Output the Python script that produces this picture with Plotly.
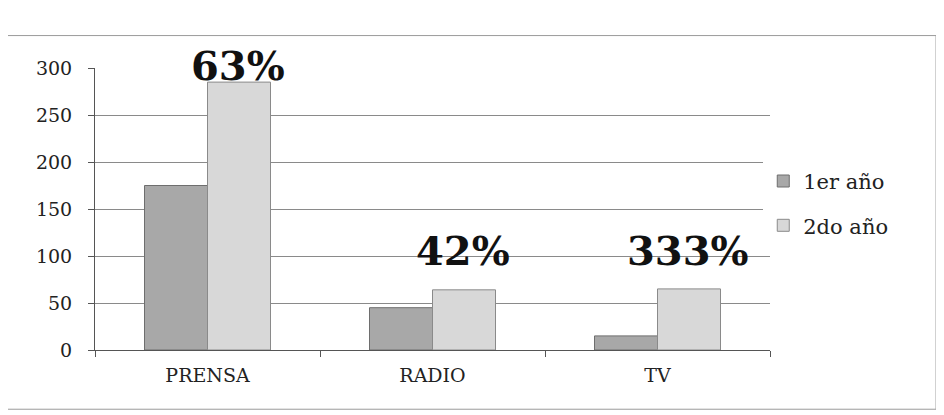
import plotly.graph_objects as go

categories = ["PRENSA", "RADIO", "TV"]
anio1 = [175, 45, 15]
anio2 = [285, 64, 65]
pct_labels = ["63%", "42%", "333%"]
pct_y = [298, 102, 102]
y_ticks = [0, 50, 100, 150, 200, 250, 300]

font_serif = "DejaVu Serif, Liberation Serif, serif"

fig = go.Figure()
fig.add_trace(go.Bar(name="1er año", x=categories, y=anio1,
                     marker=dict(color="#a8a8a8", line=dict(color="#6e6e6e", width=1)),
                     legendgroup="a"))
fig.add_trace(go.Bar(name="2do año", x=categories, y=anio2,
                     marker=dict(color="#d8d8d8", line=dict(color="#8a8a8a", width=1)),
                     legendgroup="b"))

for c, t, yv in zip(categories, pct_labels, pct_y):
    fig.add_annotation(x=c, y=yv, text="<b>" + t + "</b>", showarrow=False,
                       xshift=30, yshift=4, yanchor="middle",
                       font=dict(family=font_serif, size=40, color="#111111"))

fig.add_shape(type="rect", xref="paper", yref="paper",
              x0=-0.133, x1=1.246, y0=-0.21, y1=1.115,
              line=dict(color="#9a9a9a", width=1), fillcolor="rgba(0,0,0,0)")

fig.update_layout(
    width=944, height=415,
    margin=dict(l=87, r=182, t=60, b=73),
    paper_bgcolor="white", plot_bgcolor="white",
    barmode="group", bargap=0.44, bargroupgap=0,
    font=dict(family=font_serif, size=20, color="#222222"),
    legend=dict(x=0.99, y=0.52, xanchor="left", yanchor="middle",
                font=dict(family=font_serif, size=21, color="#222222"),
                tracegroupgap=14, itemwidth=30),
    showlegend=True,
)
fig.update_xaxes(showline=True, linecolor="#555555", linewidth=1,
                 ticks="outside", tickson="boundaries", ticklen=6, tickcolor="#555555",
                 ticklabelstandoff=8,
                 tickfont=dict(family=font_serif, size=19, color="#222222"))
fig.update_yaxes(range=[0, 300], tickvals=y_ticks, showgrid=True, gridcolor="#8a8a8a",
                 gridwidth=1, showline=True, linecolor="#555555", linewidth=1,
                 ticks="outside", ticklen=6, tickcolor="#555555", zeroline=False,
                 ticklabelstandoff=12,
                 tickfont=dict(family=font_serif, size=19, color="#222222"))

fig.write_html("out.html")
